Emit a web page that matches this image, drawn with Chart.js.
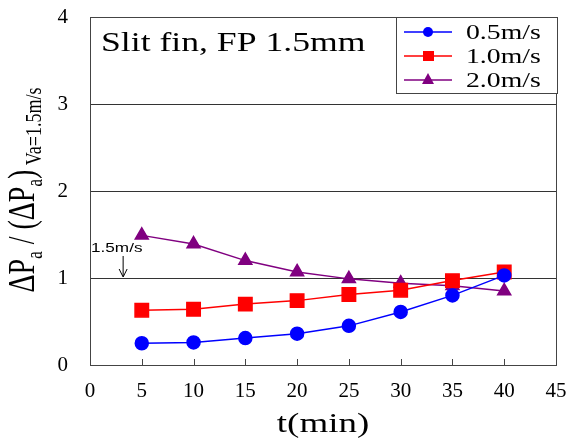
<!DOCTYPE html>
<html lang="en">
<head>
    <meta charset="UTF-8">
    <title>Slit fin, FP 1.5mm</title>
    <script src="https://cdn.jsdelivr.net/npm/chart.js"></script>
    <style>
        body { margin: 0; background: #fff; }
        #wrap { width: 567px; height: 442px; position: relative; }
    </style>
</head>
<body>
    <div id="wrap"><canvas id="chart"></canvas></div>

    <script>
        const times = [5, 10, 15, 20, 25, 30, 35, 40];
        const v05 = [0.25, 0.26, 0.31, 0.36, 0.45, 0.61, 0.80, 1.03];
        const v10 = [0.63, 0.64, 0.70, 0.74, 0.81, 0.86, 0.97, 1.07];
        const v20 = [1.49, 1.39, 1.20, 1.07, 0.99, 0.94, 0.91, 0.85];
        const seriesLabels = ['0.5m/s', '1.0m/s', '2.0m/s'];
        const xTicks = [0, 5, 10, 15, 20, 25, 30, 35, 40, 45];
        const yTicks = [0, 1, 2, 3, 4];

        const serif = '"Liberation Serif", "DejaVu Serif", serif';
        const stretch = 1.32; // text in the picture is a bit wide

        function toXY(arr) {
            return arr.map((v, i) => ({ x: times[i], y: v }));
        }

        function wideText(ctx, txt, x, y, align) {
            ctx.save();
            ctx.translate(x, y);
            ctx.scale(stretch, 1);
            ctx.textAlign = align || 'left';
            ctx.fillText(txt, 0, 0);
            ctx.restore();
        }

        // texts, legend, arrow, box and inward ticks
        const extras = {
            id: 'extras',
            afterDraw(chart) {
                const ctx = chart.ctx;
                const xs = chart.scales.x, ys = chart.scales.y;
                const a = chart.chartArea;
                ctx.save();

                // frame top and right
                ctx.strokeStyle = '#444';
                ctx.lineWidth = 1;
                ctx.beginPath();
                ctx.moveTo(a.left, Math.round(a.top) + 0.5);
                ctx.lineTo(Math.round(a.right) + 0.5, Math.round(a.top) + 0.5);
                ctx.lineTo(Math.round(a.right) + 0.5, a.bottom);
                ctx.stroke();

                // inward x ticks
                xTicks.forEach(t => {
                    const px = Math.round(xs.getPixelForValue(t)) + 0.5;
                    ctx.beginPath();
                    ctx.moveTo(px, a.bottom);
                    ctx.lineTo(px, a.bottom - 6);
                    ctx.stroke();
                });

                // label inside plot
                ctx.fillStyle = '#000';
                ctx.font = '27px ' + serif;
                ctx.textBaseline = 'alphabetic';
                wideText(ctx, 'Slit fin, FP 1.5mm', 101, 51);

                // 1.5m/s marker
                ctx.font = '13px "Liberation Sans", Arial, sans-serif';
                wideText(ctx, '1.5m/s', 91, 252);
                const ax = xs.getPixelForValue(3.2);
                const ay = ys.getPixelForValue(1);
                ctx.strokeStyle = '#000';
                ctx.beginPath();
                ctx.moveTo(ax, 256);
                ctx.lineTo(ax, ay - 2);
                ctx.stroke();
                ctx.beginPath();
                ctx.moveTo(ax - 4, ay - 9);
                ctx.lineTo(ax, ay - 1);
                ctx.lineTo(ax + 4, ay - 9);
                ctx.stroke();

                // legend
                const lx = 396, ly = Math.round(a.top), lw = 161, lh = 76;
                ctx.fillStyle = '#fff';
                ctx.fillRect(lx, ly, lw, lh);
                ctx.strokeStyle = '#444';
                ctx.strokeRect(lx + 0.5, ly + 0.5, lw, lh);
                chart.data.datasets.forEach((ds, i) => {
                    const yy = ly + 15 + i * 24;
                    ctx.strokeStyle = ds.borderColor;
                    ctx.lineWidth = 1.5;
                    ctx.beginPath();
                    ctx.moveTo(404, yy);
                    ctx.lineTo(452, yy);
                    ctx.stroke();
                    ctx.fillStyle = ds.backgroundColor;
                    ctx.beginPath();
                    if (ds.pointStyle === 'circle') {
                        ctx.arc(428, yy, 5, 0, Math.PI * 2);
                    } else if (ds.pointStyle === 'rect') {
                        ctx.rect(423, yy - 5, 11, 10);
                    } else {
                        ctx.moveTo(428, yy - 7);
                        ctx.lineTo(434, yy + 4);
                        ctx.lineTo(422, yy + 4);
                        ctx.closePath();
                    }
                    ctx.fill();
                    ctx.fillStyle = '#000';
                    ctx.font = '21px ' + serif;
                    ctx.textBaseline = 'middle';
                    wideText(ctx, ds.label, 466, yy + 1);
                });

                // x title
                ctx.textBaseline = 'alphabetic';
                ctx.font = '28px ' + serif;
                wideText(ctx, 't(min)', (a.left + a.right) / 2, 432, 'center');

                // y title with subscripts, rotated
                ctx.translate(34, 190);
                ctx.rotate(-Math.PI / 2);
                ctx.scale(1, stretch);
                ctx.textAlign = 'left';
                const parts = [
                    ['ΔP', 28, 0], ['a', 17, 6], [' / (ΔP', 28, 0], ['a', 17, 6], [')', 28, 0],
                    [' Va=1.5m/s', 18, 5]
                ];
                let total = 0;
                parts.forEach(p => { ctx.font = p[1] + 'px ' + serif; total += ctx.measureText(p[0]).width; });
                let cx = -total / 2;
                parts.forEach(p => {
                    ctx.font = p[1] + 'px ' + serif;
                    ctx.fillText(p[0], cx, p[2]);
                    cx += ctx.measureText(p[0]).width;
                });
                ctx.restore();
            }
        };

        new Chart(document.getElementById('chart'), {
            type: 'line',
            data: {
                datasets: [
                    { label: seriesLabels[0], data: toXY(v05), borderColor: '#0000ff', backgroundColor: '#0000ff',
                      pointStyle: 'circle', pointRadius: 6.5, borderWidth: 1.5 },
                    { label: seriesLabels[1], data: toXY(v10), borderColor: '#ff0000', backgroundColor: '#ff0000',
                      pointStyle: 'rect', pointRadius: 9.5, borderWidth: 1.5 },
                    { label: seriesLabels[2], data: toXY(v20), borderColor: '#800080', backgroundColor: '#800080',
                      pointStyle: 'triangle', pointRadius: 7.5, borderWidth: 1.5 }
                ]
            },
            options: {
                responsive: true,
                maintainAspectRatio: false,
                animation: false,
                layout: { padding: { top: 17, right: 10, left: 0, bottom: 0 } },
                plugins: { legend: { display: false }, tooltip: { enabled: false } },
                scales: {
                    x: {
                        type: 'linear', min: 0, max: 45,
                        afterBuildTicks: s => { s.ticks = xTicks.map(v => ({ value: v })); },
                        afterFit: s => { s.height = 77; s.paddingLeft = 0; s.paddingRight = 0; },
                        grid: { display: false },
                        border: { color: '#444', width: 1 },
                        ticks: { color: '#000', font: { family: serif, size: 21 }, padding: 6, maxRotation: 0 }
                    },
                    y: {
                        min: 0, max: 4,
                        afterBuildTicks: s => { s.ticks = yTicks.map(v => ({ value: v })); },
                        afterFit: s => { s.width = 90; s.paddingTop = 0; s.paddingBottom = 0; },
                        grid: { color: '#333', drawTicks: false, lineWidth: 1 },
                        border: { color: '#444', width: 1 },
                        ticks: { color: '#000', font: { family: serif, size: 21 }, padding: 22 }
                    }
                }
            },
            plugins: [extras]
        });
    </script>
</body>
</html>
